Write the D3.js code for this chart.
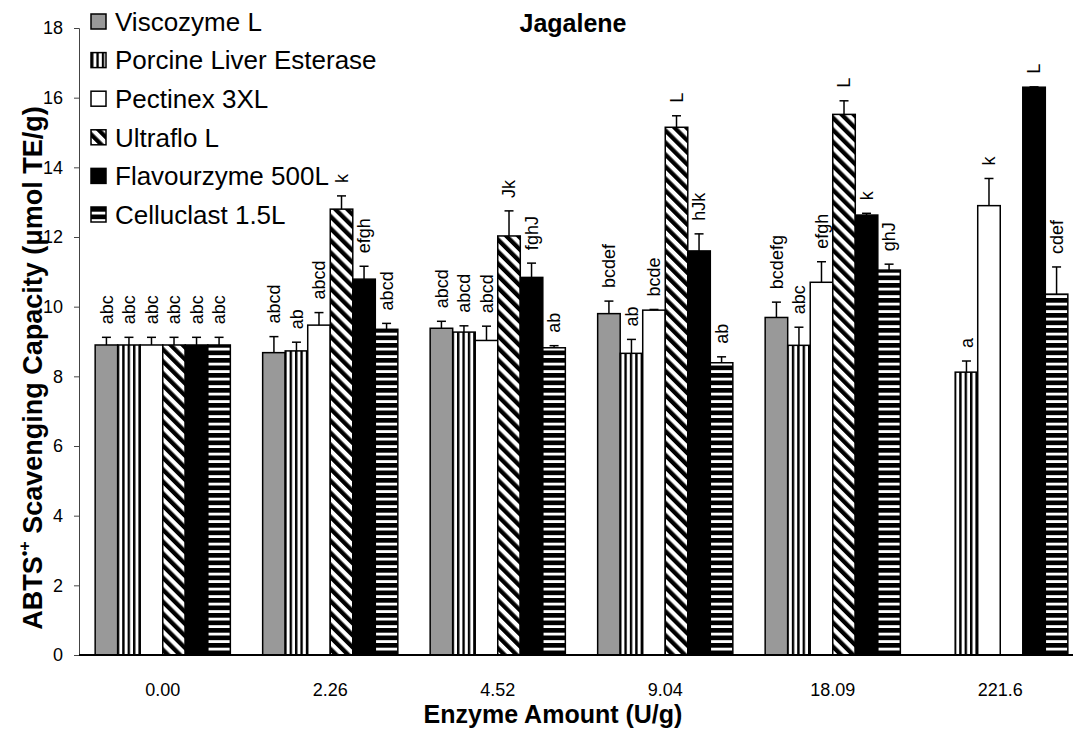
<!DOCTYPE html>
<html>
<head>
<meta charset="utf-8">
<script src="https://cdn.jsdelivr.net/npm/d3@7"></script>
<style>
  body { margin: 0; background: #fff; }
  text { font-family: "Liberation Sans", Arial, sans-serif; }
</style>
</head>
<body>
<div id="wrapper"></div>
<script>
// enzyme amounts (x groups)
const groups = ["0.00", "2.26", "4.52", "9.04", "18.09", "221.6"]
const enzymes = ["Viscozyme L", "Porcine Liver Esterase", "Pectinex 3XL", "Ultraflo L", "Flavourzyme 500L", "Celluclast 1.5L"]

// means (µmol TE/g), null = not measured
const viscozyme   = [8.90, 8.68, 9.38, 9.80, 9.69, null]
const porcine     = [8.90, 8.73, 9.27, 8.66, 8.89, 8.12]
const pectinex    = [8.90, 9.47, 9.03, 9.90, 10.70, 12.90]
const ultraflo    = [8.90, 12.80, 12.03, 15.15, 15.52, null]
const flavourzyme = [8.90, 10.79, 10.84, 11.60, 12.63, 16.30]
const celluclast  = [8.90, 9.35, 8.82, 8.39, 11.05, 10.36]

// error bars (upper only)
const viscozymeErr   = [0.22, 0.46, 0.20, 0.36, 0.44, null]
const porcineErr     = [0.22, 0.25, 0.18, 0.40, 0.52, 0.32]
const pectinexErr    = [0.22, 0.36, 0.41, 0.02, 0.59, 0.78]
const ultrafloErr    = [0.22, 0.38, 0.72, 0.33, 0.39, null]
const flavourzymeErr = [0.22, 0.37, 0.41, 0.49, 0.05, 0.01]
const celluclastErr  = [0.22, 0.17, 0.06, 0.17, 0.17, 0.78]

// significance letters
const viscozymeSig   = ["abc", "abcd", "abcd", "bcdef", "bcdefg", ""]
const porcineSig     = ["abc", "ab", "abcd", "ab", "abc", "a"]
const pectinexSig    = ["abc", "abcd", "abcd", "bcde", "efgh", "k"]
const ultrafloSig    = ["abc", "k", "Jk", "L", "L", ""]
const flavourzymeSig = ["abc", "efgh", "fghJ", "hJk", "k", "L"]
const celluclastSig  = ["abc", "abcd", "ab", "ab", "ghJ", "cdef"]

const yTicks = [0, 2, 4, 6, 8, 10, 12, 14, 16, 18]

async function drawBars() {
  const means = [viscozyme, porcine, pectinex, ultraflo, flavourzyme, celluclast]
  const errs = [viscozymeErr, porcineErr, pectinexErr, ultrafloErr, flavourzymeErr, celluclastErr]
  const sigs = [viscozymeSig, porcineSig, pectinexSig, ultrafloSig, flavourzymeSig, celluclastSig]

  // flat table, one row per bar
  const dataset = []
  groups.forEach((g, gi) => {
    enzymes.forEach((e, ei) => {
      if (means[ei][gi] == null) return
      dataset.push({ group: g, enzyme: e, idx: ei, value: means[ei][gi], err: errs[ei][gi], sig: sigs[ei][gi] })
    })
  })

  let dimensions = {
    width: 1073,
    height: 729,
    margin: { top: 28, right: -11, bottom: 74, left: 79 }
  }
  dimensions.boundedWidth = dimensions.width - dimensions.margin.left - dimensions.margin.right
  dimensions.boundedHeight = dimensions.height - dimensions.margin.top - dimensions.margin.bottom

  const wrapper = d3.select("#wrapper")
    .append("svg")
      .attr("width", dimensions.width)
      .attr("height", dimensions.height)

  // fill patterns
  const defs = wrapper.append("defs")
  const vert = defs.append("pattern").attr("id", "p-vert")
    .attr("patternUnits", "userSpaceOnUse").attr("width", 5.4).attr("height", 10)
  vert.append("rect").attr("width", 5.4).attr("height", 10).attr("fill", "#fff")
  vert.append("rect").attr("x", 0).attr("width", 2.4).attr("height", 10).attr("fill", "#000")

  const diag = defs.append("pattern").attr("id", "p-diag")
    .attr("patternUnits", "userSpaceOnUse").attr("width", 8.5).attr("height", 10)
    .attr("patternTransform", "rotate(-45)")
  diag.append("rect").attr("width", 8.5).attr("height", 10).attr("fill", "#fff")
  diag.append("rect").attr("width", 4.3).attr("height", 10).attr("fill", "#000")

  const horiz = defs.append("pattern").attr("id", "p-horiz")
    .attr("patternUnits", "userSpaceOnUse").attr("width", 10).attr("height", 7.5)
  horiz.append("rect").attr("width", 10).attr("height", 7.5).attr("fill", "#000")
  horiz.append("rect").attr("y", 4.7).attr("width", 10).attr("height", 2.8).attr("fill", "#fff")

  const fills = ["#999999", "url(#p-vert)", "#ffffff", "url(#p-diag)", "#000000", "url(#p-horiz)"]

  const bounds = wrapper.append("g")
    .style("transform", `translate(${dimensions.margin.left}px, ${dimensions.margin.top}px)`)

  // scales
  const xScale = d3.scaleBand()
    .domain(groups)
    .range([0, dimensions.boundedWidth])
    .paddingInner(0.193)
    .paddingOuter(0.0965)

  const xInner = d3.scaleBand()
    .domain(enzymes)
    .range([0, xScale.bandwidth()])

  const yScale = d3.scaleLinear()
    .domain([0, 18])
    .range([dimensions.boundedHeight, 0])

  // bars
  const barGroups = bounds.append("g")
    .selectAll("g")
    .data(dataset)
    .join("g")

  const barX = d => xScale(d.group) + xInner(d.enzyme)
  const barW = xInner.bandwidth()

  barGroups.append("rect")
    .attr("x", barX)
    .attr("y", d => yScale(d.value))
    .attr("width", barW)
    .attr("height", d => dimensions.boundedHeight - yScale(d.value))
    .attr("fill", d => fills[d.idx])
    .attr("stroke", "#000")
    .attr("stroke-width", 1.5)

  // error bars
  barGroups.append("line")
    .attr("x1", d => barX(d) + barW / 2)
    .attr("x2", d => barX(d) + barW / 2)
    .attr("y1", d => yScale(d.value))
    .attr("y2", d => yScale(d.value + d.err))
    .attr("stroke", "#000")
    .attr("stroke-width", 1.5)

  barGroups.append("line")
    .attr("x1", d => barX(d) + barW / 2 - 4.5)
    .attr("x2", d => barX(d) + barW / 2 + 4.5)
    .attr("y1", d => yScale(d.value + d.err))
    .attr("y2", d => yScale(d.value + d.err))
    .attr("stroke", "#000")
    .attr("stroke-width", 1.5)

  // letters, rotated
  barGroups.filter(d => d.sig)
    .append("text")
      .attr("transform", d => `translate(${barX(d) + barW / 2}, ${yScale(d.value + d.err) - 13}) rotate(-90)`)
      .attr("dy", "0.35em")
      .attr("text-anchor", "start")
      .style("font-size", "18px")
      .attr("fill", "#000")
      .text(d => d.sig)

  // y axis
  const yAxisGenerator = d3.axisLeft()
    .scale(yScale)
    .tickValues(yTicks)
    .tickSize(5)
    .tickPadding(11)

  const yAxis = bounds.append("g").call(yAxisGenerator)
  yAxis.select(".domain").attr("stroke", "#444")
  yAxis.selectAll(".tick line").attr("stroke", "#444")
  yAxis.selectAll("text").style("font-size", "18px").attr("fill", "#000")

  // x axis labels
  const xAxisGenerator = d3.axisBottom()
    .scale(xScale)
    .tickSize(0)
    .tickPadding(28)

  const xAxis = bounds.append("g")
    .call(xAxisGenerator)
      .style("transform", `translateY(${dimensions.boundedHeight}px)`)
  xAxis.select(".domain").remove()
  xAxis.selectAll("text").style("font-size", "18px").attr("fill", "#000")

  // baseline
  bounds.append("line")
    .attr("x1", 0)
    .attr("x2", dimensions.width)
    .attr("y1", dimensions.boundedHeight)
    .attr("y2", dimensions.boundedHeight)
    .attr("stroke", "#000")
    .attr("stroke-width", 2)

  // axis titles
  wrapper.append("text")
    .attr("x", 553)
    .attr("y", 723)
    .attr("text-anchor", "middle")
    .style("font-size", "25px")
    .style("font-weight", "bold")
    .text("Enzyme Amount (U/g)")

  const yLabel = wrapper.append("text")
    .attr("transform", "translate(42, 368) rotate(-90)")
    .attr("text-anchor", "middle")
    .style("font-size", "27px")
    .style("font-weight", "bold")
  yLabel.append("tspan").text("ABTS")
  yLabel.append("tspan").text("•+").style("font-size", "16px").attr("dy", -12)
  yLabel.append("tspan").text(" Scavenging Capacity (μmol TE/g)").attr("dy", 12)

  // title
  wrapper.append("text")
    .attr("x", 573)
    .attr("y", 32)
    .attr("text-anchor", "middle")
    .style("font-size", "25px")
    .style("font-weight", "bold")
    .text("Jagalene")

  // legend
  const legend = wrapper.append("g")
    .selectAll("g")
    .data(enzymes)
    .join("g")
      .attr("transform", (d, i) => `translate(91, ${21.5 + i * 38.6})`)

  legend.append("rect")
    .attr("x", 0)
    .attr("y", -7.5)
    .attr("width", 15)
    .attr("height", 15)
    .attr("fill", (d, i) => fills[i])
    .attr("stroke", "#000")
    .attr("stroke-width", 1.5)

  legend.append("text")
    .attr("x", 24)
    .attr("dy", "0.36em")
    .style("font-size", "26px")
    .text(d => d)
}

drawBars()
</script>
</body>
</html>
